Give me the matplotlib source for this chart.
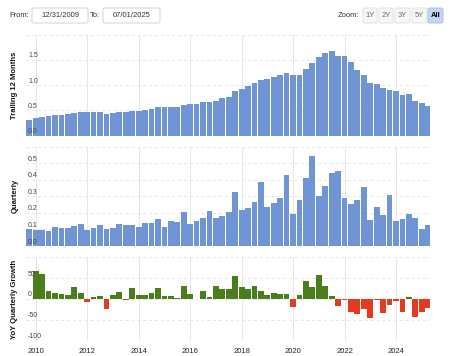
import numpy as np
import pandas as pd
import matplotlib
matplotlib.use('Agg')
import matplotlib.pyplot as plt
import matplotlib.dates as mdates
import matplotlib.transforms as mtransforms
from matplotlib.patches import FancyBboxPatch

# quarter end dates
quarters = pd.date_range('2009-09-30', periods=63, freq='QE')

ttm = [0.31, 0.34, 0.375, 0.395, 0.41, 0.415, 0.43, 0.455, 0.475, 0.47,
       0.47, 0.475, 0.435, 0.45, 0.46, 0.46, 0.49, 0.49, 0.51, 0.53,
       0.56, 0.56, 0.57, 0.57, 0.61, 0.63, 0.63, 0.665, 0.665, 0.69,
       0.74, 0.77, 0.89, 0.93, 0.98, 1.05, 1.10, 1.13, 1.16, 1.19,
       1.23, 1.19, 1.19, 1.32, 1.44, 1.55, 1.64, 1.67, 1.58, 1.57,
       1.45, 1.29, 1.20, 1.05, 1.03, 0.95, 0.90, 0.89, 0.81, 0.82,
       0.68, 0.64, 0.59]

quarterly = [0.10, 0.095, 0.095, 0.092, 0.112, 0.106, 0.106, 0.12, 0.13, 0.096,
             0.11, 0.127, 0.10, 0.106, 0.13, 0.125, 0.127, 0.112, 0.14, 0.14,
             0.16, 0.116, 0.15, 0.145, 0.207, 0.133, 0.15, 0.167, 0.21, 0.169,
             0.18, 0.203, 0.327, 0.215, 0.227, 0.265, 0.386, 0.237, 0.257, 0.287,
             0.428, 0.193, 0.277, 0.412, 0.544, 0.301, 0.363, 0.44, 0.454, 0.291,
             0.253, 0.277, 0.357, 0.157, 0.237, 0.185, 0.305, 0.149, 0.165, 0.191,
             0.171, 0.102, 0.125]

yoy = [np.nan, 68, 61, 20, 14, 11, 10, 28, 15, -8,
       4, 6, -23, 9, 17, -2, 26, 9, 9, 15,
       27, 6, 7, 3, 31, 12, 1, 18, 4, 30,
       25, 23, 56, 29, 24, 30, 18, 10, 15, 11,
       11, -19, 9, 43, 28, 58, 30, 7, -16, -3,
       -30, -37, -23, -45, -3, -33, -14, -5, -30, 5,
       -43, -31, -22]

blue = '#6f95d5'
green = '#4a7e1d'
red = '#e13c22'
grid_c = '#e6e6e6'

W, H = 450, 356
fig = plt.figure(figsize=(W / 100, H / 100), dpi=100)

def px_axes(top, bottom):
    return fig.add_axes([26 / W, 1 - bottom / H, 404 / W, (bottom - top) / H])

ax1 = px_axes(34.5, 135.7)
ax2 = px_axes(146.5, 246)
ax3 = px_axes(257.3, 340.7)

bar_w = 82
ax1.bar(quarters, ttm, width=bar_w, color=blue, zorder=2)
ax2.bar(quarters, quarterly, width=bar_w, color=blue, zorder=2)
yoy_arr = np.array(yoy, dtype=float)
ax3.bar(quarters, yoy_arr, width=bar_w,
        color=[green if v >= 0 else red for v in np.nan_to_num(yoy_arr)], zorder=2)

panels = [
    (ax1, (0, 2.0), [0.5, 1.0, 1.5, 2.0], [0, 0.5, 1.0, 1.5], ['0.0', '0.5', '1.0', '1.5'], 'Trailing 12 Months'),
    (ax2, (0, 0.6), [0.1, 0.2, 0.3, 0.4, 0.5, 0.6], [0, 0.1, 0.2, 0.3, 0.4, 0.5],
     ['0.0', '0.1', '0.2', '0.3', '0.4', '0.5'], 'Quarterly'),
    (ax3, (-100, 100), [-100, -50, 0, 50, 100], [-100, -50, 0, 50], ['-100', '-50', '0', '50'], 'YoY Quarterly Growth'),
]

xmin = pd.Timestamp('2009-08-15')
xmax = pd.Timestamp('2025-04-26')
years = [pd.Timestamp(f'{y}-01-01') for y in range(2010, 2025, 2)]

for ax, ylim, grids, ticks, labels, title in panels:
    ax.set_xlim(xmin, xmax)
    ax.set_ylim(*ylim)
    for s in ax.spines.values():
        s.set_visible(False)
    ax.set_yticks([])
    ax.set_xticks(years)
    ax.tick_params(axis='x', length=0)
    ax.set_xticklabels([])
    for g in grids:
        ax.axhline(g, color=grid_c, lw=0.7, ls=(0, (3, 3)), zorder=0)
    for yr in years:
        ax.axvline(yr, color=grid_c, lw=0.7, zorder=0)
    trans = mtransforms.offset_copy(ax.get_yaxis_transform(), fig=fig, x=2, y=4, units='dots')
    for t, lab in zip(ticks, labels):
        ax.text(0, t, lab, transform=trans, ha='left', va='center',
                fontsize=5, color='#444444', zorder=5, family='Liberation Sans')
    bb = ax.get_position()
    fig.text(15 / W, bb.y0 + bb.height / 2, title, rotation=90, ha='center', va='center',
             fontsize=5.5, fontweight='bold', color='#111111', family='Liberation Sans')

ax3.xaxis.set_major_formatter(mdates.DateFormatter('%Y'))
ax3.set_xticklabels([str(y) for y in range(2010, 2025, 2)], fontsize=5.5,
                    color='#222222', family='Liberation Sans')
ax3.tick_params(axis='x', pad=5)

# range selector / zoom buttons at the top
def box(x0, y0, x1, y1, fc='white', ec='#cccccc'):
    p = FancyBboxPatch((x0 / W, 1 - y1 / H), (x1 - x0) / W, (y1 - y0) / H,
                       boxstyle='round,pad=0,rounding_size=0.004', transform=fig.transFigure,
                       fc=fc, ec=ec, lw=0.6)
    fig.patches.append(p)

font = dict(fontsize=5.5, color='#333333', family='Liberation Sans', va='center')
ymid = 1 - 15.5 / H
fig.text(9 / W, ymid, 'From:', ha='left', **font)
box(32, 8, 88, 23)
fig.text(60 / W, ymid, '12/31/2009', ha='center', **font)
fig.text(90 / W, ymid, 'To:', ha='left', **font)
box(103, 8, 160, 23)
fig.text(131.5 / W, ymid, '07/01/2025', ha='center', **font)

fig.text(338 / W, ymid, 'Zoom:', ha='left', **font)
buttons = ['1Y', '2Y', '3Y', '5Y', 'All']
bx = [(363, 377), (379, 393), (395, 410), (412, 427), (428, 443)]
for lab, (x0, x1) in zip(buttons, bx):
    if lab == 'All':
        box(x0, 8, x1, 23, fc='#c5d4f1', ec='#a9bde8')
        fig.text((x0 + x1) / 2 / W, ymid, lab, ha='center', fontsize=5.5, color='#000000',
                 family='Liberation Sans', va='center', fontweight='bold')
    else:
        box(x0, 8, x1, 23, fc='#f7f7f7', ec='#dddddd')
        fig.text((x0 + x1) / 2 / W, ymid, lab, ha='center', fontsize=5.5, color='#666666',
                 family='Liberation Sans', va='center')

fig.savefig('out.png', dpi=100)
